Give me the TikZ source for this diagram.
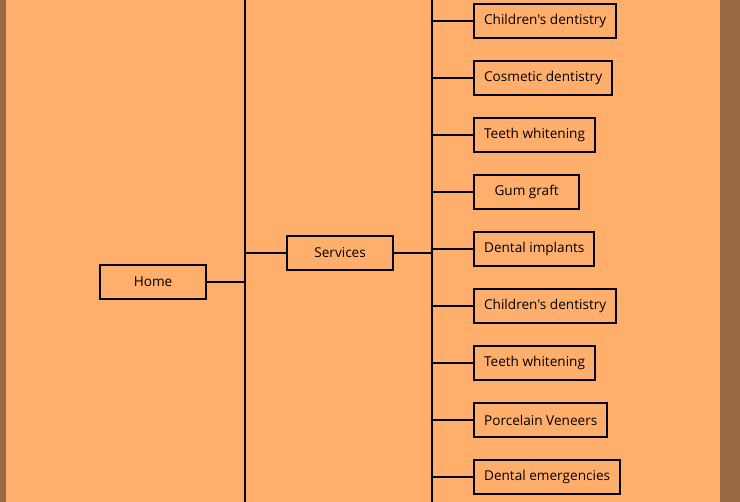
\documentclass[tikz,border=0pt]{standalone}
\usepackage{fontspec}
\setmainfont{Open Sans}[Ligatures=TeXOff]
\usepackage{xcolor}
\definecolor{pageorange}{HTML}{FFAF6B}
\definecolor{sidebrown}{HTML}{9A6A44}
\begin{document}
\begin{tikzpicture}[x=1pt, y=-1pt,
  box/.style={draw=black, line width=2.2pt, fill=pageorange, minimum height=34pt,
    inner xsep=10pt, font=\fontsize{13.6}{15}\selectfont, anchor=west},
  wide/.style={box, minimum width=106pt},
  link/.style={line width=1.6pt}]
\useasboundingbox (0,0) rectangle (740,502);
\fill[pageorange] (0,0) rectangle (740,502);
\fill[sidebrown] (0,0) rectangle (6,502);
\fill[sidebrown] (720,0) rectangle (740,502);

\coordinate (topA) at (245,0);
\coordinate (botA) at (245,502);
\coordinate (topB) at (432,0);
\coordinate (botB) at (432,502);
\draw[link] (topA) -- (botA);
\draw[link] (topB) -- (botB);

\node[wide] (home) at (99,282) {Home};
\node[wide] (services) at (286,253) {Services};

\node[box] (kids1) at (473,21) {Children's dentistry};
\node[box] (cosmetic) at (473,78) {Cosmetic dentistry};
\node[box] (whiten1) at (473,135) {Teeth whitening};
\node[box, minimum width=105pt] (gum) at (473,192) {Gum graft};
\node[box] (implants) at (473,249) {Dental implants};
\node[box] (kids2) at (473,306) {Children's dentistry};
\node[box] (whiten2) at (473,363) {Teeth whitening};
\node[box] (veneers) at (473,420) {Porcelain Veneers};
\node[box] (emergency) at (473,477) {Dental emergencies};

\draw[link] (home.east) -- (home.east -| topA);
\draw[link] (services.west) -- (services.west -| topA);
\draw[link] (services.east) -- (services.east -| topB);
\draw[link] (kids1.west) -- (kids1.west -| topB);
\draw[link] (cosmetic.west) -- (cosmetic.west -| topB);
\draw[link] (whiten1.west) -- (whiten1.west -| topB);
\draw[link] (gum.west) -- (gum.west -| topB);
\draw[link] (implants.west) -- (implants.west -| topB);
\draw[link] (kids2.west) -- (kids2.west -| topB);
\draw[link] (whiten2.west) -- (whiten2.west -| topB);
\draw[link] (veneers.west) -- (veneers.west -| topB);
\draw[link] (emergency.west) -- (emergency.west -| topB);
\end{tikzpicture}
\end{document}
